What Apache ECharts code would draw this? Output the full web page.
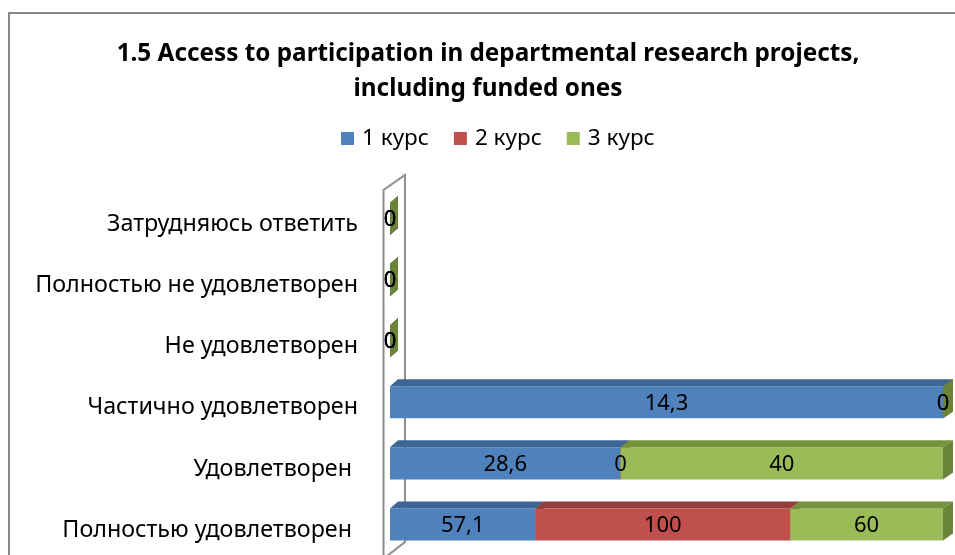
<!DOCTYPE html>
<html>
<head>
<meta charset="utf-8">
<script src="https://cdn.jsdelivr.net/npm/echarts@6/dist/echarts.min.js"></script>
<style>
  html, body { margin: 0; padding: 0; background: #fff; }
  #main { width: 955px; height: 555px; }
</style>
</head>
<body>
<div id="main"></div>
<script>
// категории снизу вверх (как в Excel)
var categories = ['Полностью удовлетворен ', 'Удовлетворен ', 'Частично удовлетворен',
	'Не удовлетворен', 'Полностью не удовлетворен', 'Затрудняюсь ответить'];
var seriesNames = ['1 курс', '2 курс', '3 курс'];
var course1 = [57.1, 28.6, 14.3, 0, 0, 0];
var course2 = [100, 0, 0, 0, 0, 0];
var course3 = [60, 40, 0, 0, 0, 0];

var frontColors = ['#4F81BD', '#C0504D', '#9BBB59'];
var topColors = ['#3D6595', '#953E3B', '#76923D'];
var sideColors = ['#36597F', '#7F3432', '#6A8437'];

var FONT = '"Noto Sans", sans-serif';

// 100% stacked: считаем начало и конец каждого сегмента
var allValues = [course1, course2, course3];
var segData = [[], [], []];
for (var c = 0; c < categories.length; c++) {
	var sum = 0;
	for (var s = 0; s < allValues.length; s++) sum += allValues[s][c];
	var acc = 0;
	for (var s = 0; s < allValues.length; s++) {
		var v = allValues[s][c];
		var pct = sum > 0 ? v / sum * 100 : 0;
		segData[s].push([acc, acc + pct, c, v]);
		acc += pct;
	}
}

function makeRender(idx) {
	return function (params, api) {
		var cat = api.value(2);
		var pa = api.coord([api.value(0), cat]);
		var pb = api.coord([api.value(1), cat]);
		var left = api.coord([0, cat])[0];
		var right = api.coord([100, cat])[0];
		var h = api.size([0, 1])[1] * 0.525;
		var yT = pa[1] - h / 2, yB = pa[1] + h / 2;
		var dy = 7;
		function dx(x) { return 8 + (x - left) / (right - left) * 2; }
		var xa = pa[0], xb = pb[0];
		var label = String(api.value(3)).replace('.', ',');
		return {
			type: 'group',
			children: [{
				type: 'rect',
				shape: { x: xa, y: yT, width: xb - xa, height: h },
				style: { fill: frontColors[idx] }
			}, {
				type: 'polygon',
				shape: { points: [[xa, yT], [xb, yT], [xb + dx(xb), yT - dy], [xa + dx(xa), yT - dy]] },
				style: { fill: topColors[idx] }
			}, {
				type: 'polygon',
				shape: { points: [[xb, yT], [xb + dx(xb), yT - dy], [xb + dx(xb), yB - dy], [xb, yB]] },
				style: { fill: sideColors[idx] }
			}, {
				type: 'text',
				z2: 100,
				style: {
					text: label, x: (xa + xb) / 2, y: pa[1] + 1,
					align: 'center', verticalAlign: 'middle',
					fill: '#000', font: '22px ' + FONT
				}
			}]
		};
	};
}

var series = [];
for (var i = 0; i < seriesNames.length; i++) {
	series.push({
		name: seriesNames[i],
		type: 'custom',
		renderItem: makeRender(i),
		encode: { x: [0, 1], y: 2 },
		itemStyle: { color: frontColors[i] },
		data: segData[i]
	});
}

var chart = echarts.init(document.getElementById('main'));
chart.setOption({
	animation: false,
	title: {
		text: '1.5 Access to participation in departmental research projects,\nincluding funded ones',
		left: 488,
		top: 37,
		padding: 0,
		textAlign: 'center',
		textStyle: { fontFamily: FONT, fontSize: 24.3, fontWeight: 'bold', color: '#000', lineHeight: 35 }
	},
	legend: {
		data: seriesNames,
		left: 341,
		top: 127,
		padding: 0,
		icon: 'rect',
		itemWidth: 13,
		itemHeight: 13,
		itemGap: 25,
		textStyle: { fontFamily: FONT, fontSize: 22.5, color: '#000', padding: [0, 0, 0, 3] }
	},
	grid: { left: 390, top: 188.5, width: 553, height: 366.6, containLabel: false },
	xAxis: { type: 'value', min: 0, max: 100, show: false },
	yAxis: {
		type: 'category',
		data: categories,
		axisLine: { show: false },
		axisTick: { show: false },
		splitLine: { show: false },
		axisLabel: {
			margin: 32,
			formatter: function (v) { return '{c|' + v + '}'; },
			rich: {
				c: { fontFamily: FONT, fontSize: 23.3, color: '#000', padding: [11, 0, 0, 0] }
			}
		}
	},
	graphic: [{
		type: 'polyline',
		shape: { points: [[9, 560], [9, 13], [960, 13]] },
		style: { stroke: '#878787', lineWidth: 2, fill: null }
	}, {
		type: 'polyline',
		shape: { points: [[383.5, 560], [383.5, 190], [405, 175], [405, 542], [387, 556]] },
		style: { stroke: '#8e8e8e', lineWidth: 2, fill: null }
	}],
	series: series
});
</script>
</body>
</html>
